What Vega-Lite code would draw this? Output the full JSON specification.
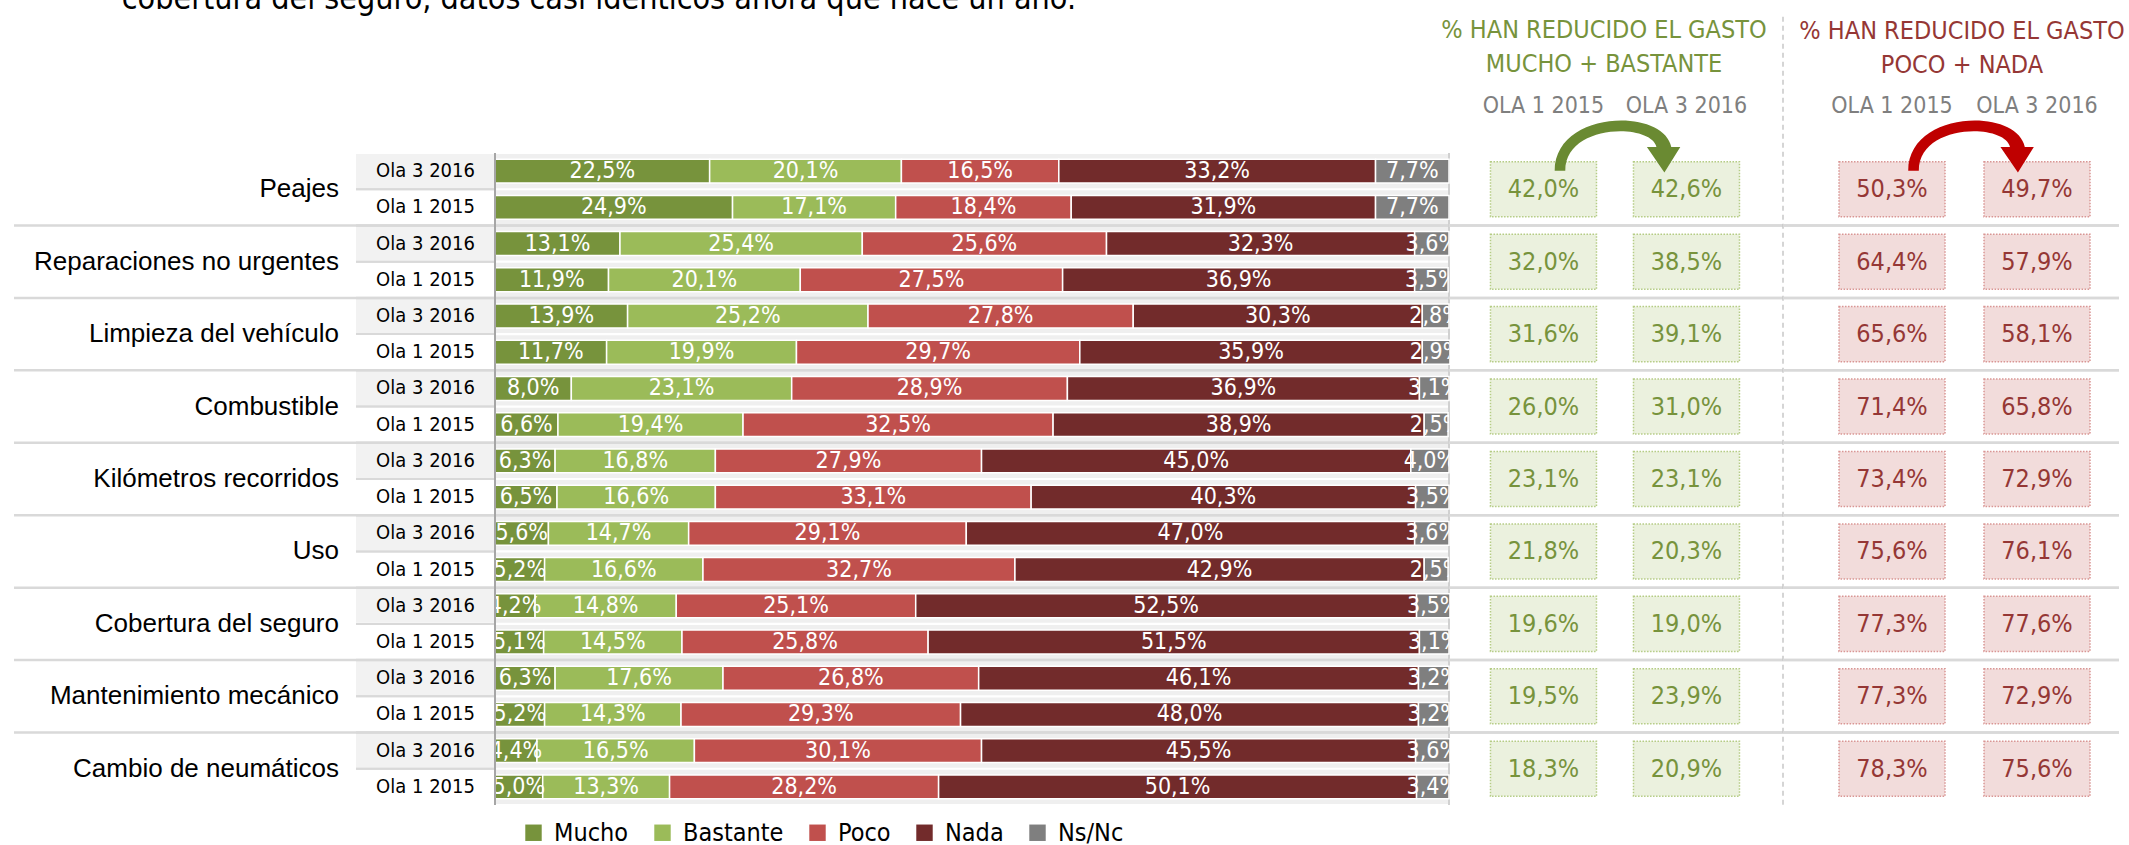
{
  "$schema": "https://vega.github.io/schema/vega-lite/v6.json",
  "background": "white",
  "padding": {"left": 12, "top": -17, "right": 0, "bottom": 0},
  "bounds": "flush",
  "spacing": 0,
  "title": {"text": "cobertura del seguro, datos casi idénticos ahora que hace un año.", "anchor": "start", "font": "DejaVu Sans Condensed, sans-serif", "fontSize": 32, "fontWeight": "normal", "color": "#000000", "dx": 109, "offset": 0},
  "resolve": {"legend": {"color": "independent"}},
  "datasets": {
    "bars": [
      {"cat": "Peajes", "wave": "Ola 3 2016", "Mucho": 22.5, "Bastante": 20.1, "Poco": 16.5, "Nada": 33.2, "Ns/Nc": 7.7},
      {"cat": "Peajes", "wave": "Ola 1 2015", "Mucho": 24.9, "Bastante": 17.1, "Poco": 18.4, "Nada": 31.9, "Ns/Nc": 7.7},
      {"cat": "Reparaciones no urgentes", "wave": "Ola 3 2016", "Mucho": 13.1, "Bastante": 25.4, "Poco": 25.6, "Nada": 32.3, "Ns/Nc": 3.6},
      {"cat": "Reparaciones no urgentes", "wave": "Ola 1 2015", "Mucho": 11.9, "Bastante": 20.1, "Poco": 27.5, "Nada": 36.9, "Ns/Nc": 3.5},
      {"cat": "Limpieza del vehículo", "wave": "Ola 3 2016", "Mucho": 13.9, "Bastante": 25.2, "Poco": 27.8, "Nada": 30.3, "Ns/Nc": 2.8},
      {"cat": "Limpieza del vehículo", "wave": "Ola 1 2015", "Mucho": 11.7, "Bastante": 19.9, "Poco": 29.7, "Nada": 35.9, "Ns/Nc": 2.9},
      {"cat": "Combustible", "wave": "Ola 3 2016", "Mucho": 8.0, "Bastante": 23.1, "Poco": 28.9, "Nada": 36.9, "Ns/Nc": 3.1},
      {"cat": "Combustible", "wave": "Ola 1 2015", "Mucho": 6.6, "Bastante": 19.4, "Poco": 32.5, "Nada": 38.9, "Ns/Nc": 2.5},
      {"cat": "Kilómetros recorridos", "wave": "Ola 3 2016", "Mucho": 6.3, "Bastante": 16.8, "Poco": 27.9, "Nada": 45.0, "Ns/Nc": 4.0},
      {"cat": "Kilómetros recorridos", "wave": "Ola 1 2015", "Mucho": 6.5, "Bastante": 16.6, "Poco": 33.1, "Nada": 40.3, "Ns/Nc": 3.5},
      {"cat": "Uso", "wave": "Ola 3 2016", "Mucho": 5.6, "Bastante": 14.7, "Poco": 29.1, "Nada": 47.0, "Ns/Nc": 3.6},
      {"cat": "Uso", "wave": "Ola 1 2015", "Mucho": 5.2, "Bastante": 16.6, "Poco": 32.7, "Nada": 42.9, "Ns/Nc": 2.5},
      {"cat": "Cobertura del seguro", "wave": "Ola 3 2016", "Mucho": 4.2, "Bastante": 14.8, "Poco": 25.1, "Nada": 52.5, "Ns/Nc": 3.5},
      {"cat": "Cobertura del seguro", "wave": "Ola 1 2015", "Mucho": 5.1, "Bastante": 14.5, "Poco": 25.8, "Nada": 51.5, "Ns/Nc": 3.1},
      {"cat": "Mantenimiento mecánico", "wave": "Ola 3 2016", "Mucho": 6.3, "Bastante": 17.6, "Poco": 26.8, "Nada": 46.1, "Ns/Nc": 3.2},
      {"cat": "Mantenimiento mecánico", "wave": "Ola 1 2015", "Mucho": 5.2, "Bastante": 14.3, "Poco": 29.3, "Nada": 48.0, "Ns/Nc": 3.2},
      {"cat": "Cambio de neumáticos", "wave": "Ola 3 2016", "Mucho": 4.4, "Bastante": 16.5, "Poco": 30.1, "Nada": 45.5, "Ns/Nc": 3.6},
      {"cat": "Cambio de neumáticos", "wave": "Ola 1 2015", "Mucho": 5.0, "Bastante": 13.3, "Poco": 28.2, "Nada": 50.1, "Ns/Nc": 3.4}
    ],
    "green": [
      {"cat": "Peajes", "OLA 1 2015": 42.0, "OLA 3 2016": 42.6},
      {"cat": "Reparaciones no urgentes", "OLA 1 2015": 32.0, "OLA 3 2016": 38.5},
      {"cat": "Limpieza del vehículo", "OLA 1 2015": 31.6, "OLA 3 2016": 39.1},
      {"cat": "Combustible", "OLA 1 2015": 26.0, "OLA 3 2016": 31.0},
      {"cat": "Kilómetros recorridos", "OLA 1 2015": 23.1, "OLA 3 2016": 23.1},
      {"cat": "Uso", "OLA 1 2015": 21.8, "OLA 3 2016": 20.3},
      {"cat": "Cobertura del seguro", "OLA 1 2015": 19.6, "OLA 3 2016": 19.0},
      {"cat": "Mantenimiento mecánico", "OLA 1 2015": 19.5, "OLA 3 2016": 23.9},
      {"cat": "Cambio de neumáticos", "OLA 1 2015": 18.3, "OLA 3 2016": 20.9}
    ],
    "red": [
      {"cat": "Peajes", "OLA 1 2015": 50.3, "OLA 3 2016": 49.7},
      {"cat": "Reparaciones no urgentes", "OLA 1 2015": 64.4, "OLA 3 2016": 57.9},
      {"cat": "Limpieza del vehículo", "OLA 1 2015": 65.6, "OLA 3 2016": 58.1},
      {"cat": "Combustible", "OLA 1 2015": 71.4, "OLA 3 2016": 65.8},
      {"cat": "Kilómetros recorridos", "OLA 1 2015": 73.4, "OLA 3 2016": 72.9},
      {"cat": "Uso", "OLA 1 2015": 75.6, "OLA 3 2016": 76.1},
      {"cat": "Cobertura del seguro", "OLA 1 2015": 77.3, "OLA 3 2016": 77.6},
      {"cat": "Mantenimiento mecánico", "OLA 1 2015": 77.3, "OLA 3 2016": 72.9},
      {"cat": "Cambio de neumáticos", "OLA 1 2015": 78.3, "OLA 3 2016": 75.6}
    ]
  },
  "hconcat": [
    {
      "width": 342, "height": 652,
      "data": {"name": "green"},
      "layer": [
        {"transform": [{"filter": "datum.cat !== 'Peajes'"}],
         "mark": {"type": "rule", "color": "#d9d9d9", "strokeWidth": 2.5},
         "encoding": {"y": {"field": "cat", "type": "nominal", "bandPosition": 0, "scale": {"domain": ["Peajes","Reparaciones no urgentes","Limpieza del vehículo","Combustible","Kilómetros recorridos","Uso","Cobertura del seguro","Mantenimiento mecánico","Cambio de neumáticos"], "paddingInner": 0, "paddingOuter": 0}, "axis": null}}},
        {"mark": {"type": "text", "align": "right", "baseline": "middle", "dx": -17, "font": "Liberation Sans, Arial, sans-serif", "fontSize": 26, "color": "#000000"},
         "encoding": {"x": {"value": "width"},
                      "y": {"field": "cat", "type": "nominal", "scale": {"domain": ["Peajes","Reparaciones no urgentes","Limpieza del vehículo","Combustible","Kilómetros recorridos","Uso","Cobertura del seguro","Mantenimiento mecánico","Cambio de neumáticos"], "paddingInner": 0, "paddingOuter": 0}, "axis": null},
                      "text": {"field": "cat"}}}
      ]
    },
    {
      "width": 139, "height": 652,
      "data": {"name": "bars"},
      "layer": [
        {"transform": [{"filter": "datum.wave === 'Ola 3 2016'"}],
         "mark": {"type": "rect", "color": "#f2f2f2"},
         "encoding": {"x": {"value": 0}, "x2": {"value": "width"},
                      "y": {"field": "cat", "type": "nominal", "scale": {"domain": ["Peajes","Reparaciones no urgentes","Limpieza del vehículo","Combustible","Kilómetros recorridos","Uso","Cobertura del seguro","Mantenimiento mecánico","Cambio de neumáticos"], "paddingInner": 0, "paddingOuter": 0}, "axis": null},
                      "yOffset": {"field": "wave", "type": "nominal", "scale": {"type": "band", "domain": ["Ola 3 2016","Ola 1 2015"], "paddingInner": 0.06, "paddingOuter": 0.03}}}},
        {"transform": [{"filter": "datum.cat !== 'Peajes'"}],
         "mark": {"type": "rule", "color": "#d9d9d9", "strokeWidth": 2.5},
         "encoding": {"y": {"field": "cat", "type": "nominal", "bandPosition": 0, "axis": null}}},
        {"mark": {"type": "rule", "color": "#d9d9d9", "strokeWidth": 2},
         "encoding": {"y": {"field": "cat", "type": "nominal", "bandPosition": 0.5, "axis": null}}},
        {"mark": {"type": "text", "baseline": "middle", "font": "DejaVu Sans Condensed, sans-serif", "fontSize": 20, "color": "#000000"},
         "encoding": {"y": {"field": "cat", "type": "nominal", "axis": null},
                      "yOffset": {"field": "wave", "type": "nominal"},
                      "text": {"field": "wave"}}}
      ]
    },
    {
      "width": 954, "height": 652,
      "data": {"name": "bars"},
      "resolve": {"scale": {"yOffset": "independent"}},
      "layer": [
        {"mark": {"type": "bar", "color": "#efefef"},
         "encoding": {"x": {"datum": 0, "type": "quantitative", "scale": {"domain": [0, 100], "nice": false, "zero": true}, "axis": null},
                      "x2": {"datum": 100},
                      "y": {"field": "cat", "type": "nominal", "scale": {"domain": ["Peajes","Reparaciones no urgentes","Limpieza del vehículo","Combustible","Kilómetros recorridos","Uso","Cobertura del seguro","Mantenimiento mecánico","Cambio de neumáticos"], "paddingInner": 0, "paddingOuter": 0}, "axis": null},
                      "yOffset": {"field": "wave", "type": "nominal", "scale": {"type": "band", "domain": ["Ola 3 2016","Ola 1 2015"], "paddingInner": 0.06, "paddingOuter": 0.03}}}},
        {"transform": [{"filter": "datum.cat !== 'Peajes'"}],
         "mark": {"type": "rule", "color": "#d9d9d9", "strokeWidth": 2.5},
         "encoding": {"y": {"field": "cat", "type": "nominal", "bandPosition": 0, "axis": null}}},
        {"mark": {"type": "rule", "color": "#d0d0d0", "strokeWidth": 1.5},
         "encoding": {"x": {"datum": 100, "type": "quantitative"}}},
        {"transform": [{"fold": ["Mucho","Bastante","Poco","Nada","Ns/Nc"], "as": ["answer","v"]},
                       {"calculate": "indexof(['Mucho','Bastante','Poco','Nada','Ns/Nc'], datum.answer)", "as": "k"}],
         "mark": {"type": "bar", "stroke": "#ffffff", "strokeWidth": 1.5},
         "encoding": {"x": {"field": "v", "type": "quantitative", "stack": "zero"},
                      "y": {"field": "cat", "type": "nominal", "axis": null},
                      "yOffset": {"field": "wave", "type": "nominal", "scale": {"type": "band", "domain": ["Ola 3 2016","Ola 1 2015"], "paddingInner": 0.34, "paddingOuter": 0.17}},
                      "color": {"field": "answer", "type": "nominal",
                                "scale": {"domain": ["Mucho","Bastante","Poco","Nada","Ns/Nc"], "range": ["#77933c","#9bbb59","#c0504d","#722b2b","#7f7f7f"]},
                                "legend": {"orient": "none", "legendX": 26, "legendY": 667, "direction": "horizontal", "title": null, "symbolType": "square", "symbolSize": 270, "symbolStrokeWidth": 0, "labelFont": "DejaVu Sans Condensed, sans-serif", "labelFontSize": 25, "labelColor": "#000000", "labelOffset": 8, "columnPadding": 21, "labelLimit": 0}},
                      "order": {"field": "k", "type": "quantitative"}}},
        {"transform": [{"fold": ["Mucho","Bastante","Poco","Nada","Ns/Nc"], "as": ["answer","v"]},
                       {"calculate": "indexof(['Mucho','Bastante','Poco','Nada','Ns/Nc'], datum.answer)", "as": "k"},
                       {"calculate": "replace(format(datum.v, '.1f'), '.', ',') + '%'", "as": "lab"}],
         "mark": {"type": "text", "color": "#ffffff", "baseline": "middle", "font": "DejaVu Sans Condensed, sans-serif", "fontSize": 23, "clip": true},
         "encoding": {"x": {"field": "v", "type": "quantitative", "stack": "zero", "bandPosition": 0.5},
                      "y": {"field": "cat", "type": "nominal", "axis": null},
                      "yOffset": {"field": "wave", "type": "nominal", "scale": {"type": "band", "domain": ["Ola 3 2016","Ola 1 2015"], "paddingInner": 0.34, "paddingOuter": 0.17}},
                      "detail": {"field": "answer"},
                      "order": {"field": "k", "type": "quantitative"},
                      "text": {"field": "lab"}}},
        {"mark": {"type": "rule", "color": "#a6a6a6", "strokeWidth": 2},
         "encoding": {"x": {"datum": 0, "type": "quantitative"}}}
      ]
    },
    {
      "width": 334, "height": 652,
      "data": {"name": "green"},
      "transform": [{"fold": ["OLA 1 2015","OLA 3 2016"], "as": ["col","v"]},
                    {"calculate": "replace(format(datum.v, '.1f'), '.', ',') + '%'", "as": "lab"}],
      "title": {"text": ["% HAN REDUCIDO EL GASTO", "MUCHO + BASTANTE"], "color": "#77933c", "font": "DejaVu Sans Condensed, sans-serif", "fontSize": 25, "fontWeight": "normal", "lineHeight": 34, "anchor": "middle", "dx": -12, "offset": -61},
      "layer": [
        {"transform": [{"filter": "datum.cat !== 'Peajes'"}],
         "mark": {"type": "rule", "color": "#d9d9d9", "strokeWidth": 2.5},
         "encoding": {"y": {"field": "cat", "type": "nominal", "bandPosition": 0, "scale": {"domain": ["Peajes","Reparaciones no urgentes","Limpieza del vehículo","Combustible","Kilómetros recorridos","Uso","Cobertura del seguro","Mantenimiento mecánico","Cambio de neumáticos"], "paddingInner": 0, "paddingOuter": 0}, "axis": null}}},
        {"transform": [{"filter": "datum.cat === 'Peajes' && datum.col === 'OLA 1 2015'"}],
         "mark": {"type": "rule", "color": "#c8c8c8", "strokeWidth": 1.5, "strokeDash": [5, 4]},
         "encoding": {"x": {"value": "width"},
                      "y": {"field": "cat", "type": "nominal", "bandPosition": -1.88, "axis": null},
                      "y2": {"value": "height"}}},
        {"mark": {"type": "rect", "height": {"band": 0.76}, "fill": "#ebf1de", "stroke": "#b5cc85", "strokeWidth": 1.5, "strokeDash": [1.5, 1.5]},
         "encoding": {"x": {"field": "col", "type": "nominal", "scale": {"domain": ["OLA 1 2015","OLA 3 2016"], "paddingInner": 0.2587, "paddingOuter": 0.2972, "align": 0.488},
                            "axis": {"orient": "top", "title": null, "domain": false, "ticks": false, "tickSize": 0, "labelAngle": 0, "labelPadding": 36, "labelFont": "DejaVu Sans Condensed, sans-serif", "labelFontSize": 23, "labelColor": "#7f7f7f"}},
                      "y": {"field": "cat", "type": "nominal", "axis": null}}},
        {"mark": {"type": "text", "baseline": "middle", "font": "DejaVu Sans Condensed, sans-serif", "fontSize": 25, "color": "#77933c"},
         "encoding": {"x": {"field": "col", "type": "nominal"},
                      "y": {"field": "cat", "type": "nominal", "axis": null},
                      "text": {"field": "lab"}}},
        {"transform": [{"filter": "datum.cat === 'Peajes' && datum.col === 'OLA 1 2015'"}],
         "mark": {"type": "point", "shape": "M -1.1 0.05 C -1.1 -1.1 0.95 -1.15 1.1 -0.4 L 1.27 -0.4 L 0.97 0.08 L 0.64 -0.4 L 0.82 -0.4 C 0.72 -0.85 -0.9 -0.85 -0.9 0.05 Z", "size": 11236, "filled": true, "color": "#6a8a32", "opacity": 1, "strokeWidth": 0, "xOffset": 69.5, "yOffset": -21},
         "encoding": {"x": {"field": "col", "type": "nominal"},
                      "y": {"field": "cat", "type": "nominal", "axis": null}}}
      ]
    },
    {
      "width": 336, "height": 652,
      "data": {"name": "red"},
      "transform": [{"fold": ["OLA 1 2015","OLA 3 2016"], "as": ["col","v"]},
                    {"calculate": "replace(format(datum.v, '.1f'), '.', ',') + '%'", "as": "lab"}],
      "title": {"text": ["% HAN REDUCIDO EL GASTO", "POCO + NADA"], "color": "#953735", "font": "DejaVu Sans Condensed, sans-serif", "fontSize": 25, "fontWeight": "normal", "lineHeight": 34, "anchor": "middle", "dx": 11, "offset": 16},
      "layer": [
        {"transform": [{"filter": "datum.cat !== 'Peajes'"}],
         "mark": {"type": "rule", "color": "#d9d9d9", "strokeWidth": 2.5},
         "encoding": {"y": {"field": "cat", "type": "nominal", "bandPosition": 0, "scale": {"domain": ["Peajes","Reparaciones no urgentes","Limpieza del vehículo","Combustible","Kilómetros recorridos","Uso","Cobertura del seguro","Mantenimiento mecánico","Cambio de neumáticos"], "paddingInner": 0, "paddingOuter": 0}, "axis": null}}},
        {"mark": {"type": "rect", "height": {"band": 0.76}, "fill": "#f2dcdb", "stroke": "#d99694", "strokeWidth": 1.5, "strokeDash": [1.5, 1.5]},
         "encoding": {"x": {"field": "col", "type": "nominal", "scale": {"domain": ["OLA 1 2015","OLA 3 2016"], "paddingInner": 0.269, "paddingOuter": 0.2931, "align": 0.659},
                            "axis": {"orient": "top", "title": null, "domain": false, "ticks": false, "tickSize": 0, "labelAngle": 0, "labelPadding": 36, "labelFont": "DejaVu Sans Condensed, sans-serif", "labelFontSize": 23, "labelColor": "#7f7f7f"}},
                      "y": {"field": "cat", "type": "nominal", "axis": null}}},
        {"mark": {"type": "text", "baseline": "middle", "font": "DejaVu Sans Condensed, sans-serif", "fontSize": 25, "color": "#953735"},
         "encoding": {"x": {"field": "col", "type": "nominal"},
                      "y": {"field": "cat", "type": "nominal", "axis": null},
                      "text": {"field": "lab"}}},
        {"transform": [{"filter": "datum.cat === 'Peajes' && datum.col === 'OLA 1 2015'"}],
         "mark": {"type": "point", "shape": "M -1.1 0.05 C -1.1 -1.1 0.95 -1.15 1.1 -0.4 L 1.27 -0.4 L 0.97 0.08 L 0.64 -0.4 L 0.82 -0.4 C 0.72 -0.85 -0.9 -0.85 -0.9 0.05 Z", "size": 11236, "filled": true, "color": "#bf0000", "opacity": 1, "strokeWidth": 0, "xOffset": 74.5, "yOffset": -21},
         "encoding": {"x": {"field": "col", "type": "nominal"},
                      "y": {"field": "cat", "type": "nominal", "axis": null}}}
      ]
    }
  ],
  "config": {"view": {"stroke": null}}
}
